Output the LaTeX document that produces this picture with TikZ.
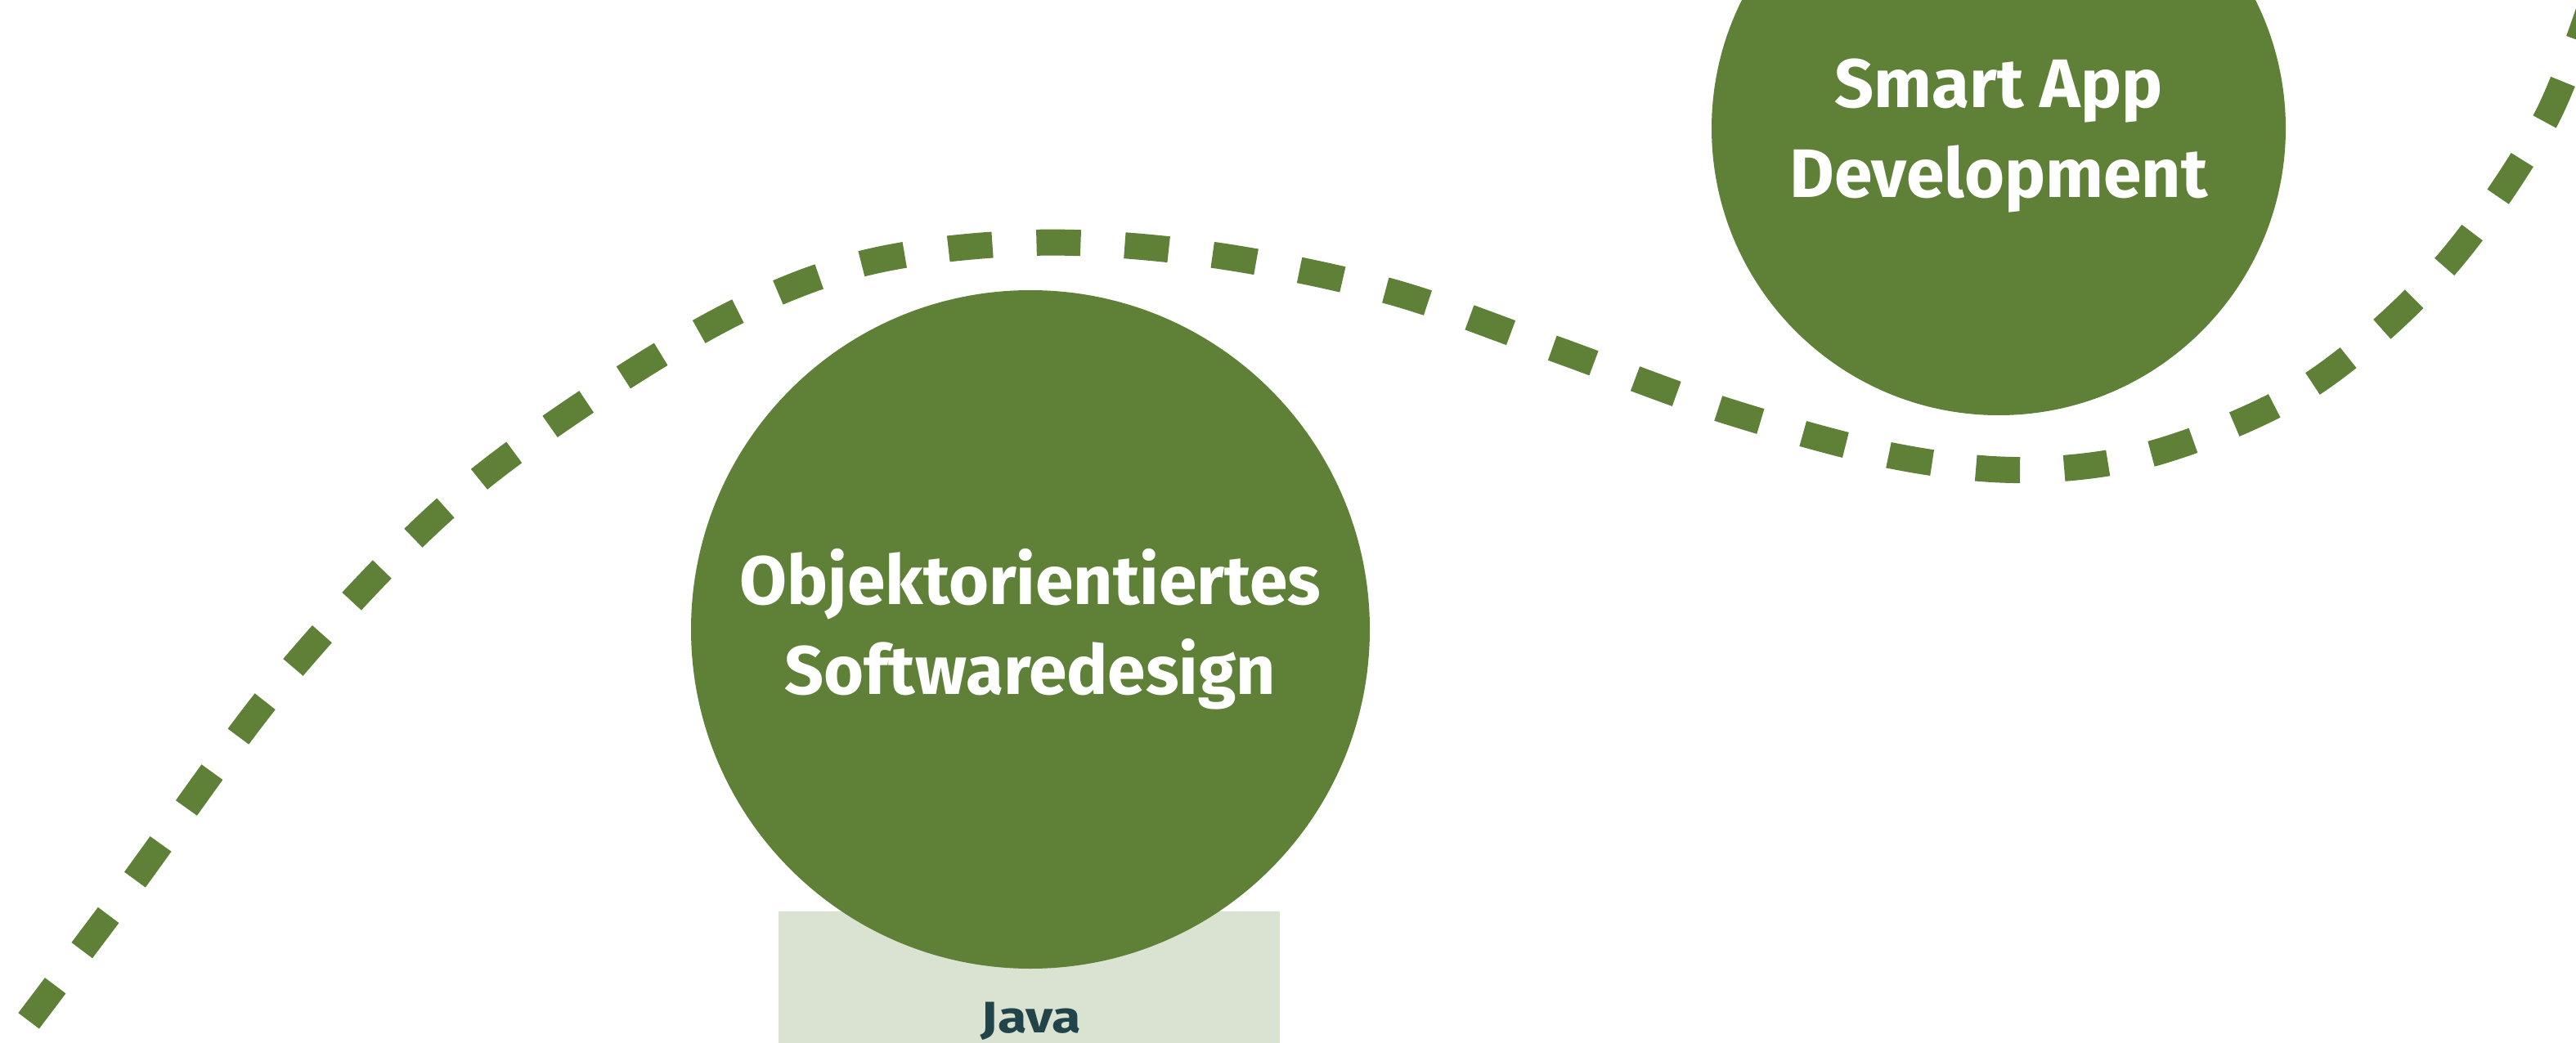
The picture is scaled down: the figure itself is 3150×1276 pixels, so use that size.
\documentclass[tikz,border=0pt]{standalone}
\usepackage{fontspec}
\setmainfont{Fira Sans}
\newfontfamily\labelfont{Fira Sans}
\newfontfamily\widefont{Fira Sans}[FakeStretch=1.2]
\definecolor{leaf}{HTML}{5E8037}
\definecolor{paleleaf}{HTML}{DAE3D1}
\definecolor{darkteal}{HTML}{21434A}
\tikzset{
  course/.style={circle, fill=leaf, draw=none, inner sep=0pt, text=white, align=center,
    font=\labelfont\bfseries\fontsize{84}{110}\selectfont},
  langbox/.style={rectangle, fill=paleleaf, draw=none, inner sep=0pt, anchor=north west},
  langtext/.style={text=darkteal, inner sep=0pt, font=\widefont\bfseries\fontsize{54}{60}\selectfont},
  pathline/.style={draw=leaf, line width=32pt, dash pattern=on 54pt off 54pt, line cap=butt}
}
\begin{document}
\begin{tikzpicture}[x=1pt,y=-1pt]
\useasboundingbox (0,0) rectangle (3150,1276);
\clip (0,0) rectangle (3150,1276);
\node[langbox, minimum width=613pt, minimum height=200pt] (javabox) at (952,1115) {};
\node[course, minimum size=830pt] (oos) at (1260,770) {Objektorientiertes\\Softwaredesign};
\node[course, minimum size=702pt, text depth=0pt] (sad) at (2444,157) {Smart App\\Development};
\node[langtext, anchor=base] (java) at (1261,1263) {Java};
\draw[pathline] plot[smooth, tension=0.55] coordinates {
  (-30,1335) (151,1095) (352,824) (573,597) (844,412) (1045,325) (1262,297)
  (1477,311) (1698,356) (1899,426) (2109,502) (2316,558) (2480,575)
  (2642,552) (2824,472) (2986,330) (3112,148) (3180,-30)};
\end{tikzpicture}
\end{document}
